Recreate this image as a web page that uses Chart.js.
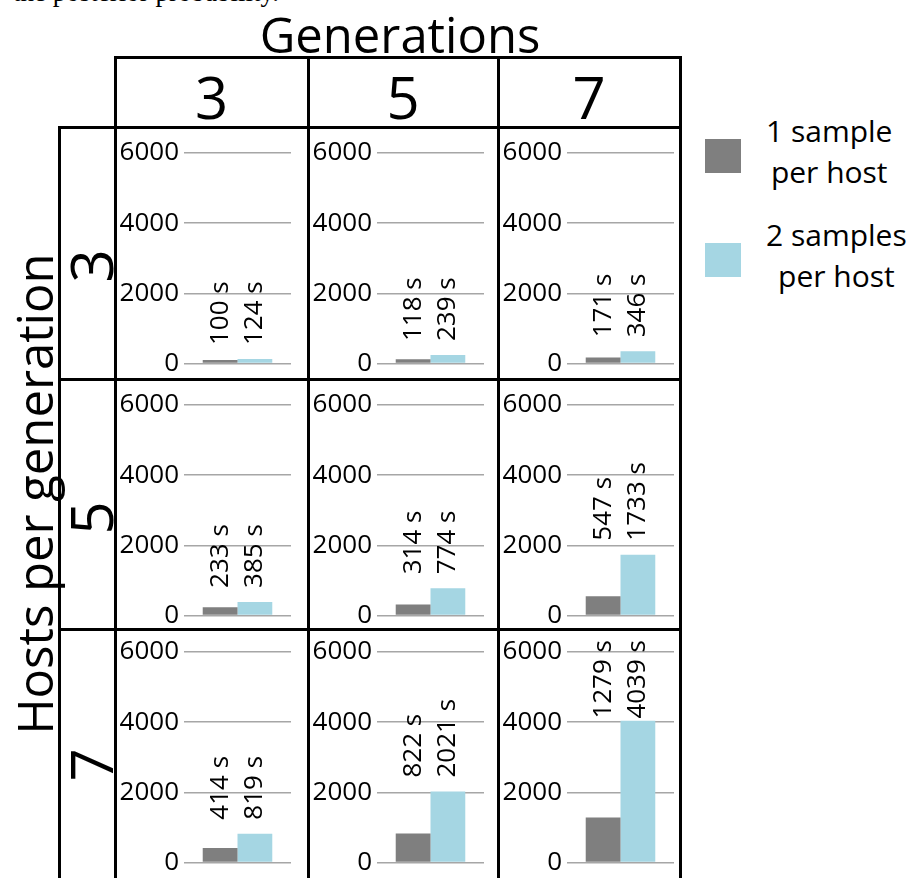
<!DOCTYPE html>
<html lang="en">
<head>
    <meta charset="UTF-8">
    <title>Run time by generations and hosts</title>
    <script src="https://cdn.jsdelivr.net/npm/chart.js"></script>
    <style>
        body { margin: 0; background: #fff; font-family: "Open Sans", sans-serif; }
        #page { position: relative; width: 919px; height: 878px; overflow: hidden; }
        .line { position: absolute; background: #000; }
        .abs { position: absolute; color: #000; white-space: nowrap; }
        .rot { transform: translate(-50%, -50%) rotate(-90deg); }
        .cell { position: absolute; }
        .swatch { position: absolute; width: 36px; height: 34px; }
        .legtext { position: absolute; font-size: 30px; line-height: 41px; text-align: center; }
    </style>
</head>
<body>
<div id="page">
    <div class="abs" style="left:13px; top:-21px; font-family:'Liberation Serif',serif; font-size:27px; line-height:27px;">the posterior probability.</div>
    <div class="abs" style="left:400px; top:34px; font-size:49px; transform:translate(-50%,-50%);">Generations</div>
    <div class="abs rot" style="left:34px; top:494px; font-size:49px;">Hosts per generation</div>
</div>
<script>
    const generations = ['3', '5', '7'];
    const hostsPerGeneration = ['3', '5', '7'];
    const seriesNames = ['1 sample\nper host', '2 samples\nper host'];
    // rows = hosts per generation, columns = generations, seconds
    const oneSample = [
        [100, 118, 171],
        [233, 314, 547],
        [414, 822, 1279]
    ];
    const twoSamples = [
        [124, 239, 346],
        [385, 774, 1733],
        [819, 2021, 4039]
    ];
    const yTicks = [0, 2000, 4000, 6000];
    const colors = ['#7f7f7f', '#a5d6e3'];

    const page = document.getElementById('page');
    const colLeft = [115, 308, 498];
    const rowTop = [128, 380, 627];

    function addLine(x, y, w, h) {
        const d = document.createElement('div');
        d.className = 'line';
        d.style.left = x + 'px'; d.style.top = y + 'px';
        d.style.width = w + 'px'; d.style.height = h + 'px';
        page.appendChild(d);
    }
    addLine(114, 56, 568, 3);
    addLine(58, 126, 624, 3);
    addLine(58, 378, 624, 3);
    addLine(58, 628, 624, 3);
    addLine(58, 126, 3, 760);
    [114, 307, 497, 679].forEach(x => addLine(x, 56, 3, 830));

    // column headers
    generations.forEach((g, i) => {
        const d = document.createElement('div');
        d.className = 'abs';
        d.style.left = ((i < 2 ? colLeft[i + 1] : 680) + colLeft[i]) / 2 + 'px';
        d.style.top = '96px';
        d.style.fontSize = '58px';
        d.style.transform = 'translate(-50%,-50%)';
        d.textContent = g;
        page.appendChild(d);
    });
    // row headers
    hostsPerGeneration.forEach((h, i) => {
        const d = document.createElement('div');
        d.className = 'abs rot';
        d.style.left = '90px';
        d.style.top = (rowTop[i] + 138) + 'px';
        d.style.fontSize = '58px';
        d.textContent = h;
        page.appendChild(d);
    });

    // legend
    seriesNames.forEach((name, i) => {
        const s = document.createElement('div');
        s.className = 'swatch';
        s.style.left = '705px';
        s.style.top = (139 + i * 104) + 'px';
        s.style.background = colors[i];
        page.appendChild(s);
        const t = document.createElement('div');
        t.className = 'legtext';
        t.style.left = '766px';
        t.style.top = (110 + i * 104) + 'px';
        t.innerHTML = name.replace('\n', '<br>');
        page.appendChild(t);
    });

    const barLabels = {
        id: 'barLabels',
        afterDatasetsDraw(chart) {
            const ctx = chart.ctx;
            const bars = chart.data.datasets.map((ds, i) => chart.getDatasetMeta(i).data[0]);
            const top = Math.min(...bars.map(b => b.y));
            ctx.save();
            ctx.font = '26px "Open Sans"';
            ctx.fillStyle = '#000';
            ctx.textAlign = 'left';
            ctx.textBaseline = 'middle';
            bars.forEach((b, i) => {
                const text = chart.data.datasets[i].data[0] + ' s';
                const len = ctx.measureText(text).width;
                let bottom = top - 14;
                if (bottom - len < chart.chartArea.top - 12) bottom = chart.chartArea.top - 12 + len;
                ctx.save();
                ctx.translate(b.x, bottom);
                ctx.rotate(-Math.PI / 2);
                ctx.fillText(text, 0, 0);
                ctx.restore();
            });
            ctx.restore();
        }
    };

    hostsPerGeneration.forEach((h, r) => {
        generations.forEach((g, c) => {
            const wrap = document.createElement('div');
            wrap.className = 'cell';
            wrap.style.left = (colLeft[c] + 2) + 'px';
            wrap.style.top = (rowTop[r] + 3) + 'px';
            const canvas = document.createElement('canvas');
            canvas.width = 178;
            canvas.height = 253;
            wrap.appendChild(canvas);
            page.appendChild(wrap);

            new Chart(canvas.getContext('2d'), {
                type: 'bar',
                data: {
                    labels: [g],
                    datasets: [
                        { label: seriesNames[0], data: [oneSample[r][c]], backgroundColor: colors[0] },
                        { label: seriesNames[1], data: [twoSamples[r][c]], backgroundColor: colors[1] }
                    ]
                },
                options: {
                    responsive: false,
                    animation: false,
                    layout: { padding: { top: 22, bottom: 0, left: 0, right: 4 } },
                    datasets: { bar: { barPercentage: 1, categoryPercentage: 0.65 } },
                    scales: {
                        x: { display: false },
                        y: {
                            min: yTicks[0],
                            max: yTicks[yTicks.length - 1],
                            afterFit: s => { s.width = 67; },
                            border: { display: false },
                            grid: { color: '#a6a6a6', lineWidth: 1.5, drawTicks: false },
                            ticks: {
                                stepSize: yTicks[1] - yTicks[0],
                                padding: 5,
                                color: '#000',
                                font: { family: 'Open Sans', size: 26 },
                                callback: v => String(v)
                            }
                        }
                    },
                    plugins: { legend: { display: false }, tooltip: { enabled: false } }
                },
                plugins: [barLabels]
            });
        });
    });
</script>
</body>
</html>
